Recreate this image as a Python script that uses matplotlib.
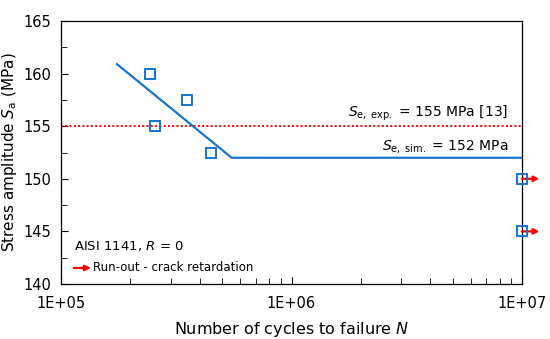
import matplotlib
matplotlib.use("Agg")
import matplotlib.pyplot as plt
from matplotlib.ticker import LogLocator, NullFormatter, MultipleLocator

# Data
test_N = [2.43e5, 2.57e5, 3.53e5, 4.47e5]
test_S = [160.0, 155.0, 157.5, 152.5]
runout_N = [1e7, 1e7]
runout_S = [150.0, 145.0]
sim_N = [1.75e5, 5.5e5, 1e7]
sim_S = [160.9, 152.0, 152.0]
exp_limit = 155.0
sim_limit = 152.0
xtick_vals = [1e5, 1e6, 1e7]
xtick_labels = ["1E+05", "1E+06", "1E+07"]
ytick_vals = [140, 145, 150, 155, 160, 165]

plt.rcParams['font.family'] = ['DejaVu Sans']
blue = "#1874CD"
red = "#FF0000"

fig = plt.figure(figsize=(5.5, 3.39), dpi=100)
ax = fig.add_axes([61/550, 1-284/339, (522-61)/550, (284-21)/339])

ax.set_xscale("log")
ax.set_xlim(1e5, 1e7)
ax.set_ylim(140, 165)

ax.axhline(exp_limit, color=red, linestyle=(0, (1, 1.2)), linewidth=1.4, zorder=2)
ax.plot(sim_N, sim_S, color=blue, linewidth=1.6, zorder=3)
ax.plot(test_N, test_S, linestyle="none", marker="s", markersize=7.5,
        markerfacecolor="none", markeredgecolor=blue, markeredgewidth=1.4, zorder=4)
ax.plot(runout_N, runout_S, linestyle="none", marker="s", markersize=7.5,
        markerfacecolor="none", markeredgecolor=blue, markeredgewidth=1.4, zorder=5,
        clip_on=False)
for n, s in zip(runout_N, runout_S):
    ax.annotate("", xy=(n * 1.19, s), xytext=(n, s), xycoords="data",
                arrowprops=dict(arrowstyle="-|>", color=red, lw=1.6,
                                mutation_scale=8, shrinkA=0, shrinkB=0),
                annotation_clip=False)

ax.text(0.97, exp_limit + 0.3, r"$\mathit{S}_{\mathrm{e,\ exp.}}$ = 155 MPa [13]",
        transform=ax.get_yaxis_transform(), ha="right", va="bottom", fontsize=10)
ax.text(0.97, sim_limit + 0.3, r"$\mathit{S}_{\mathrm{e,\ sim.}}$ = 152 MPa",
        transform=ax.get_yaxis_transform(), ha="right", va="bottom", fontsize=10)

ax.text(0.028, 0.143, r"AISI 1141, $\mathit{R}$ = 0", transform=ax.transAxes,
        ha="left", va="center", fontsize=9.5)
ax.annotate("", xy=(0.065, 0.061), xytext=(0.028, 0.061), xycoords="axes fraction",
            arrowprops=dict(arrowstyle="-|>", color=red, lw=1.6,
                            mutation_scale=8, shrinkA=0, shrinkB=0))
ax.text(0.07, 0.061, "Run-out - crack retardation", transform=ax.transAxes,
        ha="left", va="center", fontsize=8.5)

ax.set_xticks(xtick_vals)
ax.set_xticklabels(xtick_labels)
ax.xaxis.set_minor_locator(LogLocator(base=10, subs=range(2, 10)))
ax.xaxis.set_minor_formatter(NullFormatter())
ax.set_yticks(ytick_vals)
ax.yaxis.set_minor_locator(MultipleLocator(2.5))

ax.tick_params(axis="both", which="both", direction="in", labelsize=10.5)
ax.tick_params(axis="x", which="major", length=5, pad=9)
ax.tick_params(axis="x", which="minor", length=4)
ax.tick_params(axis="y", which="major", length=5, pad=7)
ax.tick_params(axis="y", which="minor", length=4)
ax.tick_params(right=False, top=False, which="both")

for sp in ax.spines.values():
    sp.set_linewidth(0.9)

ax.set_xlabel(r"Number of cycles to failure $\mathit{N}$", fontsize=11.5, labelpad=6)
ax.set_ylabel(r"Stress amplitude $\mathit{S}_{\mathrm{a}}$ (MPa)", fontsize=11, labelpad=3)

fig.savefig("out.png", dpi=100)
